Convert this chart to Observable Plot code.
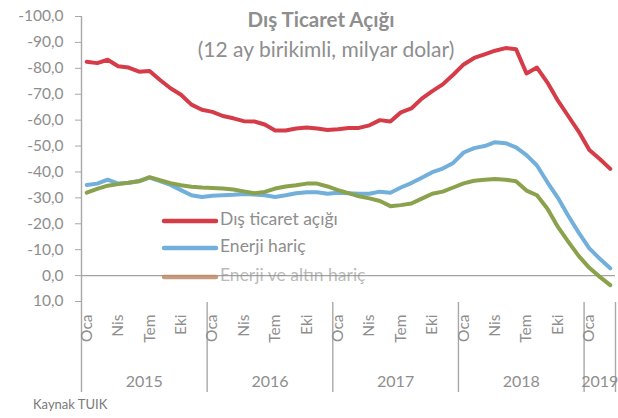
<!DOCTYPE html>
<html>
<head>
<meta charset="utf-8">
<script src="https://cdn.jsdelivr.net/npm/d3@7"></script>
<script src="https://cdn.jsdelivr.net/npm/@observablehq/plot@0.6"></script>
<style>
  html, body { margin: 0; padding: 0; background: #fff; }
  #chart svg { display: block; }
</style>
</head>
<body>
<div id="chart"></div>
<script>
// ---- data (12 ay birikimli, milyar dolar), Oca 2015 – Mar 2019 ----
const years = [2015, 2016, 2017, 2018, 2019];
const monthNames = ["Oca","Şub","Mar","Nis","May","Haz","Tem","Ağu","Eyl","Eki","Kas","Ara"];
const tickMonths = ["Oca", "Nis", "Tem", "Eki"];
const yTicks = [-100, -90, -80, -70, -60, -50, -40, -30, -20, -10, 0, 10];

const disTicaretAcigi = [
  -82.5, -82.0, -83.3, -80.8, -80.3, -78.7, -79.0, -75.5, -72.3, -69.8, -66.0, -64.0,
  -63.2, -61.6, -60.7, -59.6, -59.5, -58.3, -56.0, -56.0, -56.8, -57.2, -56.8, -56.2,
  -56.5, -57.0, -57.0, -58.0, -60.0, -59.5, -63.0, -64.5, -68.3, -71.2, -73.8, -77.5,
  -81.5, -84.0, -85.4, -86.8, -87.8, -87.4, -78.0, -80.3, -74.5, -67.5, -61.5, -55.5,
  -48.5, -45.0, -41.2
];
const enerjiHaric = [
  -35.0, -35.5, -37.0, -35.5, -35.8, -36.5, -37.8, -36.5, -35.0, -33.0, -31.0, -30.3,
  -30.8, -31.0, -31.2, -31.5, -31.3, -31.0, -30.3, -31.0, -31.8, -32.2, -32.2, -31.6,
  -32.0, -31.8, -31.6, -31.6, -32.4, -32.0, -34.0, -35.7, -37.8, -39.9, -41.3, -43.5,
  -47.5, -49.2, -50.0, -51.5, -51.1, -49.5, -46.5, -42.5, -36.0, -30.0, -23.0, -16.5,
  -10.5, -6.5, -2.8
];
const enerjiAltinHaric = [
  -32.0, -33.5, -34.7, -35.3, -35.8, -36.4, -38.0, -36.8, -35.7, -34.9, -34.3, -34.0,
  -33.8, -33.6, -33.2, -32.5, -31.8, -32.3, -33.6, -34.4, -34.9, -35.5, -35.5, -34.4,
  -33.0, -31.8, -30.6, -29.8, -28.8, -26.8, -27.2, -27.8, -29.7, -31.6, -32.4, -34.0,
  -35.6, -36.6, -37.0, -37.3, -37.0, -36.4, -32.8, -31.0, -25.8, -18.8, -13.0, -7.5,
  -3.0, 0.5, 3.7
];

const seriesNames = ["Dış ticaret açığı", "Enerji hariç", "Enerji ve altın hariç"];
const lineColors = ["#d63b48", "#72afda", "#8ba24c"];
const legendColors = ["#d63b48", "#72afda", "#c08a68"];

// ---- derived tables ----
const nMonths = disTicaretAcigi.length;
const rows = [];
[disTicaretAcigi, enerjiHaric, enerjiAltinHaric].forEach((vals, s) => {
  vals.forEach((v, i) => rows.push({i, v, s: seriesNames[s]}));
});
const monthTickRows = [];
for (let i = 0; i < nMonths; i++) {
  const m = monthNames[i % 12];
  if (tickMonths.includes(m)) monthTickRows.push({i, label: m});
}
const yearRows = years.map((y, k) => {
  const first = k * 12;
  const last = Math.min(first + 11, nMonths - 1);
  return {year: String(y), c: (first + last) / 2};
});
const yearBounds = years.map((y, k) => k * 12 - 0.5).slice(1).concat([nMonths - 0.5]);

const gray = "#8e8e8e";
const font = "Lato, 'Open Sans', sans-serif";
const fmt = d => (d < 0 ? "-" : "") + Math.abs(d).toFixed(1).replace(".", ",");

const chart = Plot.plot({
  width: 618,
  height: 418,
  marginLeft: 81,
  marginRight: 3,
  marginTop: 16,
  marginBottom: 117,
  style: {fontFamily: font, background: "#fff", overflow: "visible"},
  x: {domain: [-0.5, nMonths - 0.5], axis: null},
  y: {domain: [-100, 10], reverse: true, axis: null},
  color: {domain: seriesNames, range: lineColors},
  marks: [
    Plot.axisY({ticks: yTicks, tickFormat: fmt, tickSize: 6, tickPadding: 12, label: null,
      color: gray, fontSize: 15.5, stroke: "#a8a8a8"}),
    Plot.ruleY([0], {stroke: "#a3a3a3", strokeWidth: 1.2}),
    Plot.ruleX([-0.5], {stroke: "#a8a8a8", strokeWidth: 1.4, insetBottom: -91}),
    Plot.ruleX(yearBounds, {stroke: "#a8a8a8", strokeWidth: 1.4, insetTop: 286, insetBottom: -91}),
    Plot.line(rows, {x: "i", y: "v", z: "s", stroke: "s", strokeWidth: 4,
      strokeLinejoin: "round", strokeLinecap: "round"}),
    Plot.text(monthTickRows, {x: "i", text: "label", frameAnchor: "bottom", rotate: -90,
      textAnchor: "end", lineAnchor: "middle", dy: 13, fill: gray, fontSize: 15.5}),
    Plot.text(yearRows, {x: "c", text: "year", frameAnchor: "bottom", lineAnchor: "middle",
      dy: 80, fill: gray, fontSize: 16})
  ]
});

const svg = d3.select(chart);
// title & subtitle
svg.append("text").attr("x", 321).attr("y", 22).attr("text-anchor", "middle")
  .attr("dominant-baseline", "middle").attr("fill", gray).attr("font-weight", "bold")
  .attr("font-size", 20.5).attr("font-family", font).text("Dış Ticaret Açığı");
svg.append("text").attr("x", 326).attr("y", 52).attr("text-anchor", "middle")
  .attr("dominant-baseline", "middle").attr("fill", gray)
  .attr("font-size", 21).attr("font-family", font).text("(12 ay birikimli, milyar dolar)");
// legend
const legendY = [221, 248, 277];
seriesNames.forEach((name, k) => {
  svg.append("line").attr("x1", 164).attr("x2", 216).attr("y1", legendY[k]).attr("y2", legendY[k])
    .attr("stroke", legendColors[k]).attr("stroke-width", 4.5).attr("stroke-linecap", "round")
    .attr("opacity", k === 2 ? 0.85 : 1);
  svg.append("text").attr("x", 220).attr("y", legendY[k]).attr("dominant-baseline", "middle")
    .attr("text-anchor", "start")
    .attr("fill", gray).attr("opacity", k === 2 ? 0.6 : 1)
    .attr("font-size", 17.5).attr("font-family", font).text(name);
});
// source
svg.append("text").attr("x", 33).attr("y", 406).attr("dominant-baseline", "middle")
  .attr("text-anchor", "start")
  .attr("fill", "#7a7a7a").attr("font-size", 13).attr("font-family", font).text("Kaynak TUIK");

document.getElementById("chart").appendChild(chart);
</script>
</body>
</html>
